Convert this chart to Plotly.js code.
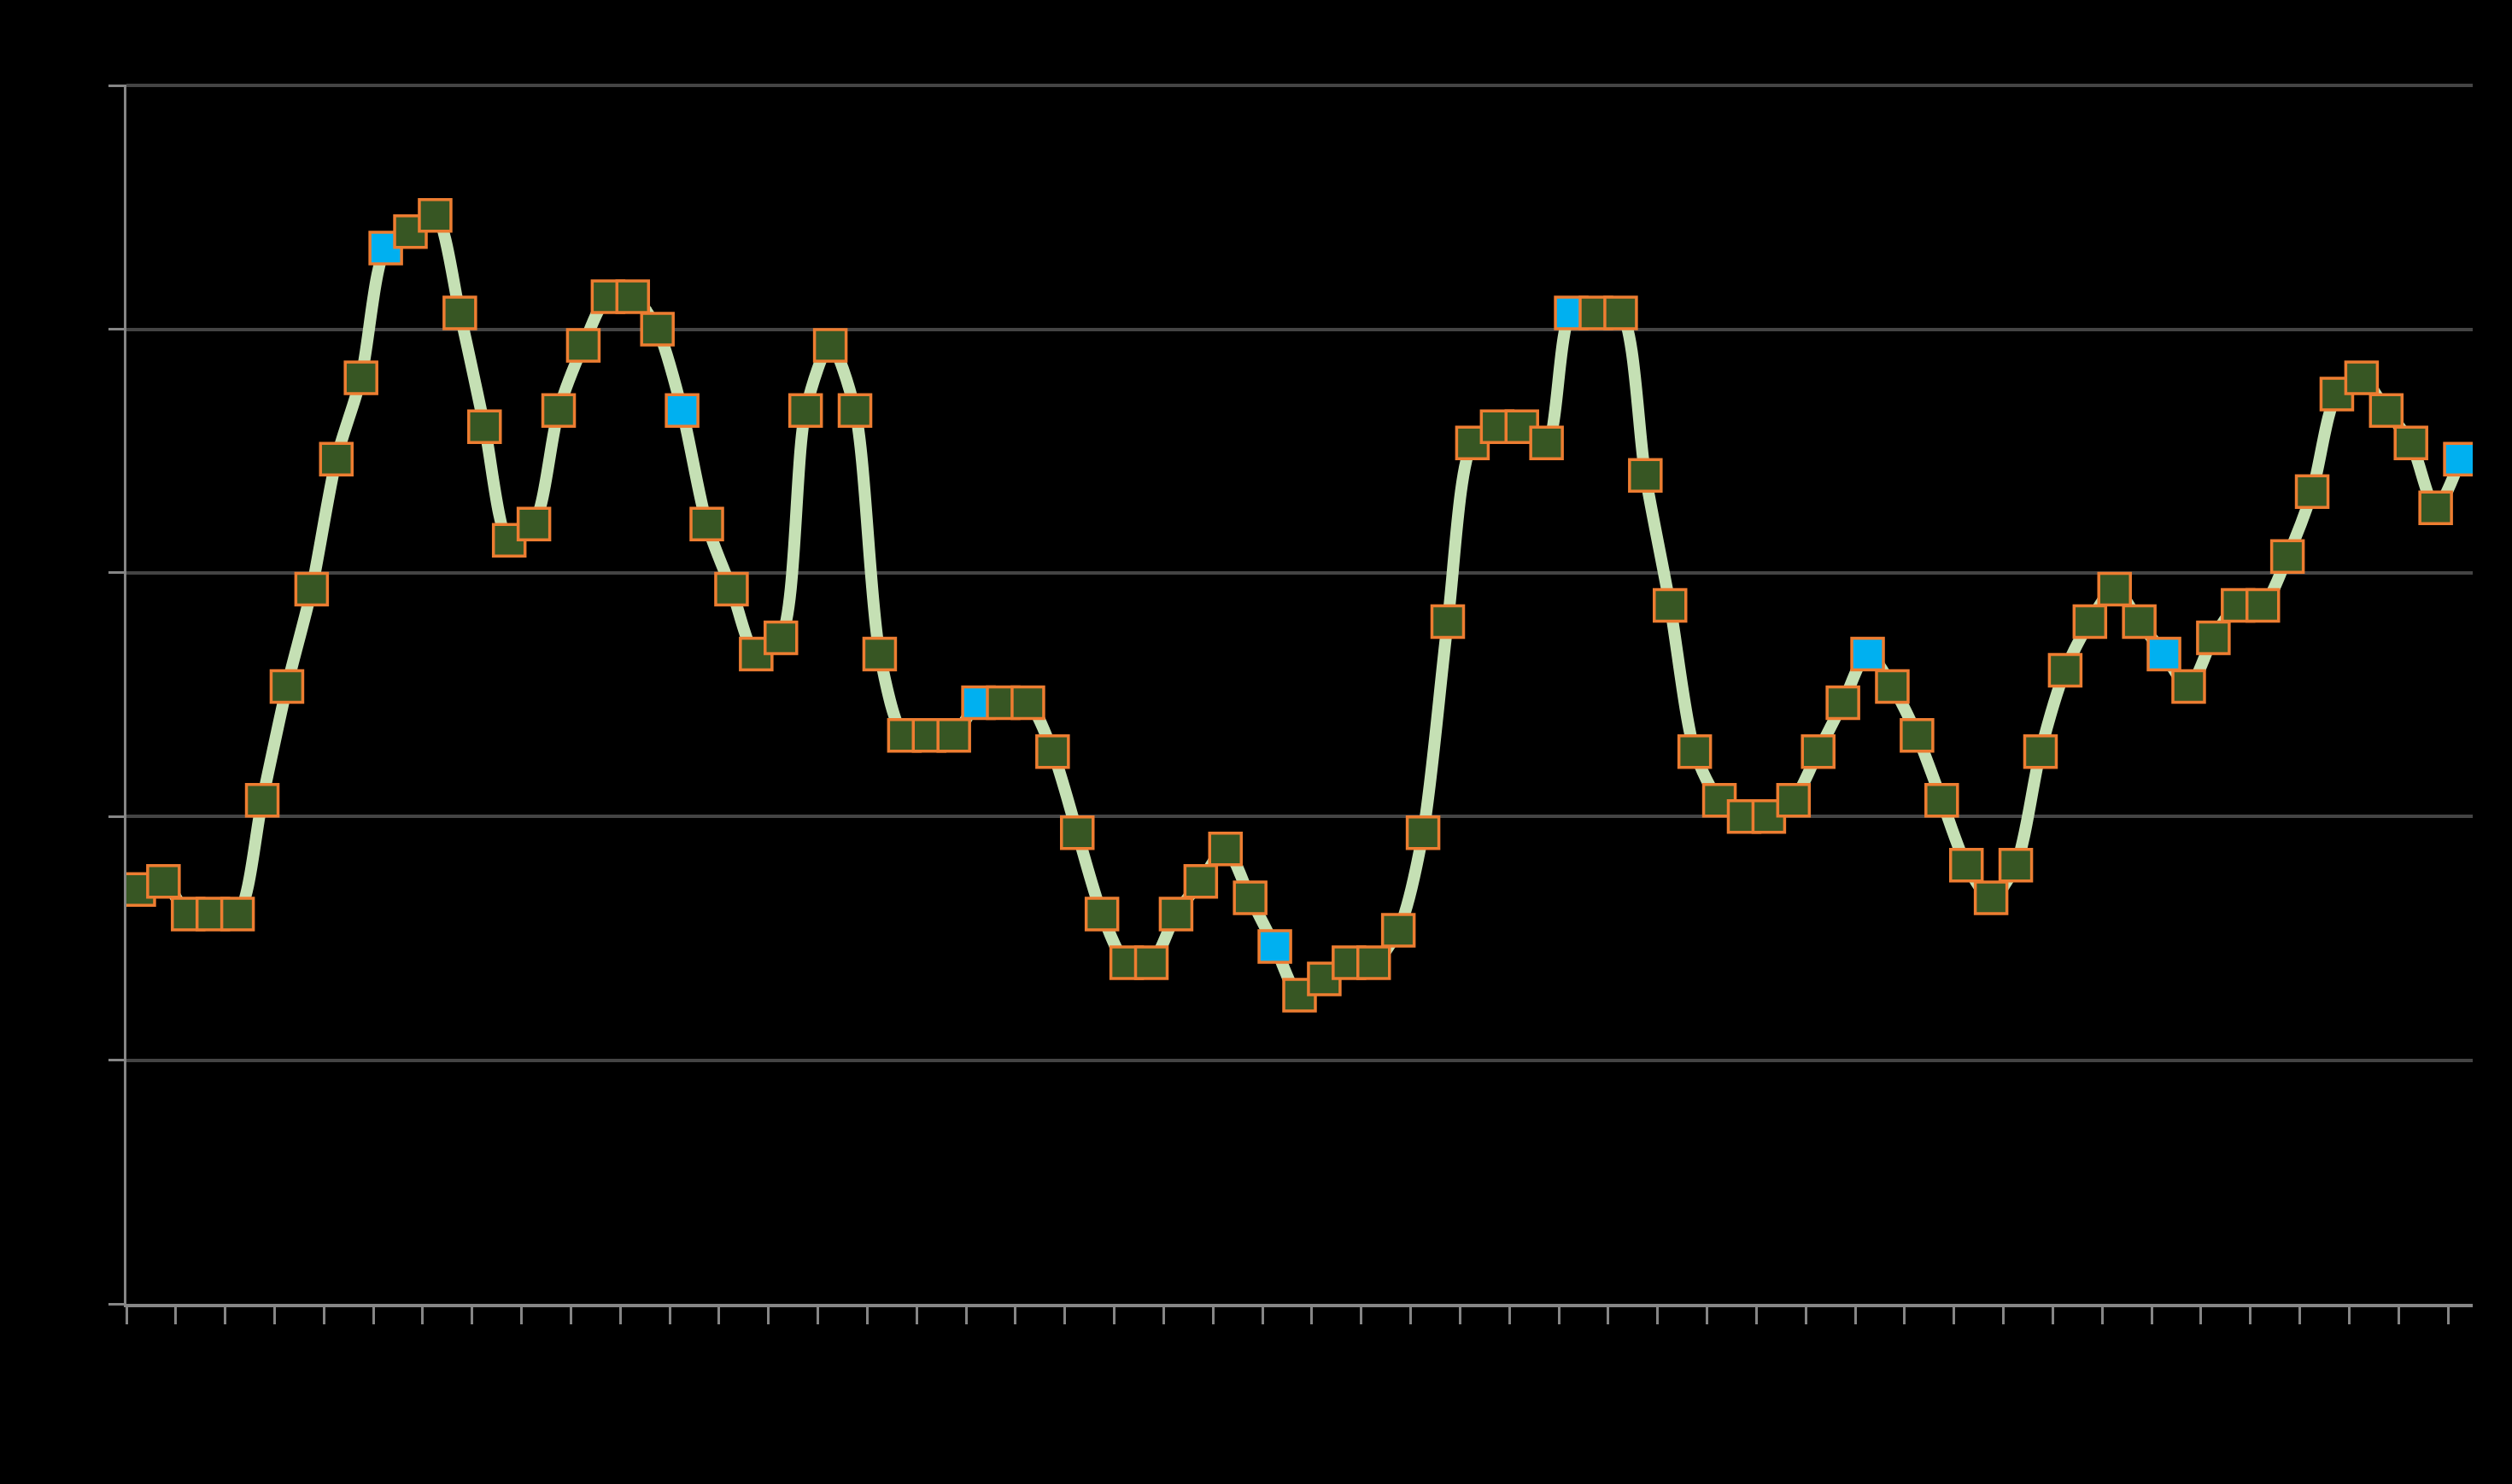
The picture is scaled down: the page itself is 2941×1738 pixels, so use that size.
<!DOCTYPE html>
<html>
<head>
<meta charset="utf-8">
<script src="https://cdn.plot.ly/plotly-3.0.1.min.js"></script>
<style>
  html, body { margin: 0; padding: 0; background: #000000; }
  #chart { width: 2941px; height: 1738px; }
</style>
</head>
<body>
<div id="chart"></div>
<script>
// Monthly series (95 periods)
const values = [
  2.55, 2.6, 2.4, 2.4, 2.4, 3.1, 3.8, 4.4, 5.2, 5.7, 6.5, 6.6,
  6.7, 6.1, 5.4, 4.7, 4.8, 5.5, 5.9, 6.2, 6.2, 6.0, 5.5, 4.8,
  4.4, 4.0, 4.1, 5.5, 5.9, 5.5, 4.0, 3.5, 3.5, 3.5, 3.7, 3.7,
  3.7, 3.4, 2.9, 2.4, 2.1, 2.1, 2.4, 2.6, 2.8, 2.5, 2.2, 1.9,
  2.0, 2.1, 2.1, 2.3, 2.9, 4.2, 5.3, 5.4, 5.4, 5.3, 6.1, 6.1,
  6.1, 5.1, 4.3, 3.4, 3.1, 3.0, 3.0, 3.1, 3.4, 3.7, 4.0, 3.8,
  3.5, 3.1, 2.7, 2.5, 2.7, 3.4, 3.9, 4.2, 4.4, 4.2, 4.0, 3.8,
  4.1, 4.3, 4.3, 4.6, 5.0, 5.6, 5.7, 5.5, 5.3, 4.9, 5.2
];
// Points drawn with the highlight colour (every 12th period)
const highlightIndex = [10, 22, 34, 46, 58, 70, 82, 94];

const periods = values.map((_, i) => i);
const markerColors = periods.map(i => highlightIndex.includes(i) ? '#00B0F0' : '#375623');

const yMin = 0, yMax = 7.5, yStep = 1.5;
const boundaryTicks = [];
for (let b = -0.5; b <= periods.length - 1; b += 2) boundaryTicks.push(b);

const trace = {
  type: 'scatter',
  mode: 'lines+markers',
  x: periods,
  y: values,
  line: { color: '#C5E0B4', width: 14, shape: 'spline', smoothing: 0.8 },
  marker: {
    symbol: 'square',
    size: 37,
    color: markerColors,
    line: { color: '#ED7D31', width: 3.5 }
  },
  hoverinfo: 'none',
  showlegend: false
};

const layout = {
  width: 2941,
  height: 1738,
  paper_bgcolor: '#000000',
  plot_bgcolor: '#000000',
  margin: { l: 148, r: 46, t: 99, b: 211, pad: 0 },
  showlegend: false,
  xaxis: {
    type: 'linear',
    range: [-0.5, periods.length - 0.5],
    tickmode: 'array',
    tickvals: boundaryTicks,
    ticks: 'outside',
    ticklen: 20,
    tickwidth: 3,
    tickcolor: '#868686',
    showticklabels: false,
    showgrid: false,
    zeroline: false,
    showline: true,
    linecolor: '#868686',
    linewidth: 4
  },
  yaxis: {
    range: [yMin, yMax + 0.006],
    tickmode: 'linear',
    tick0: yMin,
    dtick: yStep,
    ticks: 'outside',
    ticklen: 18,
    tickwidth: 3,
    tickcolor: '#868686',
    showticklabels: false,
    showgrid: true,
    gridcolor: '#444444',
    gridwidth: 4,
    zeroline: false,
    showline: true,
    linecolor: '#868686',
    linewidth: 3
  }
};

Plotly.newPlot('chart', [trace], layout, { staticPlot: true, displayModeBar: false });
</script>
</body>
</html>
